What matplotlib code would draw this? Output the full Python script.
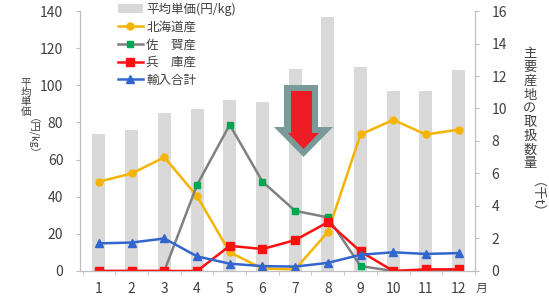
import numpy as np
import matplotlib
matplotlib.use("Agg")
import matplotlib.pyplot as plt
from matplotlib.patches import Polygon

plt.rcParams['font.family'] = ['Noto Sans CJK JP', 'DejaVu Sans']

months = np.arange(1, 13)
month_labels = [str(m) for m in months]

# 平均単価 (円/kg) - left axis
price = [74, 76, 85, 87, 92, 91, 109, 137, 110, 97, 97, 108]

# 取扱数量 (千t) - right axis
hokkaido = [5.5, 6.0, 7.0, 4.6, 1.15, 0.15, 0.1, 2.4, 8.4, 9.3, 8.4, 8.7]
saga = [0, 0, 0, 5.3, 9.0, 5.5, 3.7, 3.3, 0.3, 0, 0, 0]
hyogo = [0, 0, 0, 0, 1.55, 1.35, 1.9, 3.0, 1.2, 0, 0.1, 0.1]
imports = [1.7, 1.75, 2.0, 0.9, 0.45, 0.3, 0.27, 0.5, 1.0, 1.15, 1.05, 1.1]

txt = '#404040'
spine_c = '#BFBFBF'
W, H = 549.0, 304.0

fig = plt.figure(figsize=(5.49, 3.04), dpi=100)
ax = fig.add_axes([0.1457, 0.1086, 0.7195, 0.8552])
ax2 = ax.twinx()

bars = ax.bar(months, price, width=0.4, color='#D9D9D9', label='平均単価(円/kg)')
ax.set_ylim(0, 140)
ax.set_yticks(np.arange(0, 141, 20))
ax.set_xlim(0.42, 12.46)
ax.set_xticks(months)
ax.set_xticklabels(month_labels)
ax.set_xticks(np.arange(0.5, 12.6, 1), minor=True)

l1, = ax2.plot(months, hokkaido, color='#F5B400', lw=1.8, marker='o', ms=5, label='北海道産')
l2, = ax2.plot(months, saga, color='#808080', lw=1.8, marker='s', ms=5,
               mfc='#00A651', mec='#00A651', label='佐　賀産')
l3, = ax2.plot(months, hyogo, color='#FF1010', lw=1.8, marker='s', ms=5.5, label='兵　庫産')
l4, = ax2.plot(months, imports, color='#3366CC', lw=1.8, marker='^', ms=6, label='輸入合計')
ax2.set_ylim(0, 16)
ax2.set_yticks(np.arange(0, 17, 2))

for a in (ax, ax2):
    a.spines['top'].set_visible(False)
    for s in ('left', 'right', 'bottom'):
        a.spines[s].set_color(spine_c)
    a.tick_params(colors=spine_c, labelcolor=txt, labelsize=10, length=3)
ax.tick_params(axis='y', pad=9)
ax2.tick_params(axis='y', pad=9)
ax.tick_params(axis='x', which='major', length=0, pad=8)
ax.tick_params(axis='x', which='minor', length=3, colors=spine_c)

ax.legend(handles=[bars, l1, l2, l3, l4], loc='upper left',
          bbox_to_anchor=(0.203, 1.012), bbox_transform=fig.transFigure,
          frameon=False, fontsize=9, handlelength=2.0, handletextpad=0.3,
          labelspacing=0.38, borderpad=0, labelcolor=txt)

# axis labels, written vertically one character at a time
for i, ch in enumerate('平均単価'):
    fig.text(26 / W, 1 - (83 + 9.6 * i) / H, ch, ha='center', va='center',
             fontsize=7.5, color=txt)
fig.text(26 / W, 1 - 142 / H, '（円/kg）', ha='center', va='center',
         fontsize=7.5, color=txt, rotation=-90)
for i, ch in enumerate('主要産地の取扱数量'):
    fig.text(530 / W, 1 - (54 + 13.7 * i) / H, ch, ha='center', va='center',
             fontsize=9.5, color=txt)
fig.text(530 / W, 1 - 204 / H, '（千t）', ha='center', va='center',
         fontsize=9.5, color=txt, rotation=-90)
fig.text(481 / W, 1 - 288 / H, '月', ha='center', va='center', fontsize=8.5, color=txt)

# down arrow
pts_out = [(284, 85), (318, 85), (318, 127), (333, 127), (303.5, 157), (274, 127), (284, 127)]
pts_in = [(291, 91), (312, 91), (312, 133), (319, 133), (303.5, 149), (288, 133), (291, 133)]
fig.patches.append(Polygon([(x / W, 1 - y / H) for x, y in pts_out], closed=True,
                           facecolor='#7A9A9A', edgecolor='none', transform=fig.transFigure))
fig.patches.append(Polygon([(x / W, 1 - y / H) for x, y in pts_in], closed=True,
                           facecolor='#EE1C25', edgecolor='none', transform=fig.transFigure))

fig.savefig('out.png', dpi=100)
